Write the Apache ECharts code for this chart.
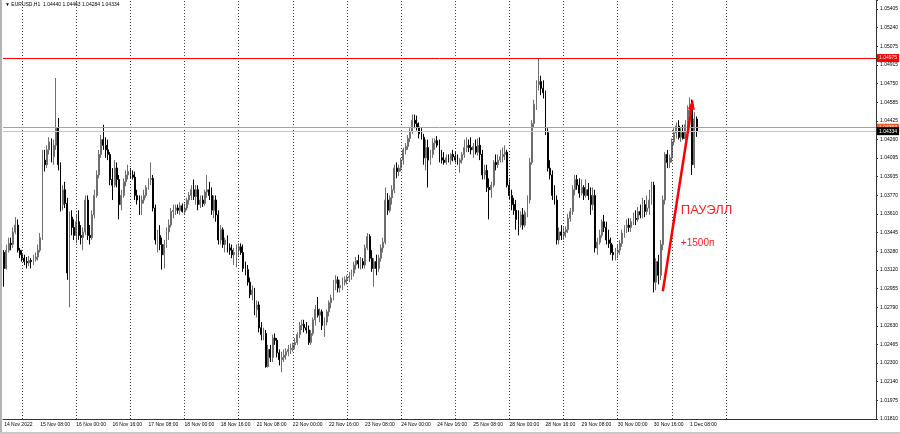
<!DOCTYPE html>
<html><head><meta charset="utf-8">
<script src="https://cdn.jsdelivr.net/npm/echarts@6/dist/echarts.min.js"></script>
<style>html,body{margin:0;padding:0;background:#fff}#chart{width:900px;height:434px}</style>
</head><body><div id="chart"></div>
<script>
const symbolTitle = 'EURUSD,H1';
const lastBarOHLC = ['1.04440', '1.04463', '1.04284', '1.04334'];
const tradingDays = ['14 Nov','15 Nov','16 Nov','17 Nov','18 Nov','21 Nov','22 Nov','23 Nov','24 Nov','25 Nov','28 Nov','29 Nov','30 Nov','1 Dec','2 Dec','5 Dec','6 Dec'];
const firstBarHour = 16;
const axisSlots = 387;
const yTickLabels = ['1.01810','1.01975','1.02140','1.02300','1.02465','1.02630','1.02790','1.02955','1.03120','1.03280','1.03445','1.03610','1.03770','1.03935','1.04095','1.04260','1.04425','1.04585','1.04750','1.04915','1.05075','1.05240','1.05405'];
const yViewMax = 1.05484;
const timeTickLabels = ['14 Nov 2022','15 Nov 08:00','16 Nov 00:00','16 Nov 16:00','17 Nov 08:00','18 Nov 00:00','18 Nov 16:00','21 Nov 08:00','22 Nov 00:00','22 Nov 16:00','23 Nov 08:00','24 Nov 00:00','24 Nov 16:00','25 Nov 08:00','28 Nov 00:00','28 Nov 16:00','29 Nov 08:00','30 Nov 00:00','30 Nov 16:00','1 Dec 08:00'];
const gridLineTimes = ['15 Nov 00:00','16 Nov 00:00','17 Nov 00:00','18 Nov 00:00','21 Nov 00:00','22 Nov 00:00','23 Nov 00:00','24 Nov 00:00','25 Nov 00:00','28 Nov 00:00','29 Nov 00:00','30 Nov 00:00','1 Dec 00:00','2 Dec 00:00'];
const levelRed = 1.04975;
const levelOrange = 1.04364;
const levelBid = 1.04334;
const arrowFrom = ['30 Nov 20:00', 1.0293];
const arrowTo = ['1 Dec 09:00', 1.0457];
const noteTitle = ['1 Dec 04:00', 1.0364, 'ПАУЭЛЛ'];
const notePips = ['1 Dec 04:00', 1.0335, '+1500п'];
// [open, high, low, close]
const candlesOHLC = [
[1.0327,1.0329,1.0297,1.0313],[1.0313,1.0334,1.0312,1.0329],[1.0329,1.0340,1.0327,1.0335],[1.0335,1.0340,1.0329,1.0334],[1.0334,1.0349,1.0331,1.0345],[1.0345,1.0358,1.0343,1.0351],
[1.0351,1.0356,1.0327,1.0329],[1.0329,1.0331,1.0322,1.0325],[1.0325,1.0329,1.0319,1.0322],[1.0322,1.0325,1.0316,1.0319],[1.0319,1.0323,1.0313,1.0318],[1.0318,1.0324,1.0315,1.0320],
[1.0320,1.0322,1.0313,1.0319],[1.0319,1.0325,1.0316,1.0321],[1.0321,1.0327,1.0319,1.0323],[1.0323,1.0334,1.0320,1.0329],[1.0329,1.0344,1.0327,1.0340],[1.0340,1.0417,1.0338,1.0408],
[1.0408,1.0417,1.0398,1.0404],[1.0404,1.0421,1.0401,1.0417],[1.0417,1.0428,1.0413,1.0424],[1.0424,1.0427,1.0406,1.0411],[1.0411,1.0426,1.0404,1.0421],[1.0421,1.0480,1.0417,1.0436],
[1.0436,1.0445,1.0399,1.0404],[1.0404,1.0406,1.0363,1.0369],[1.0369,1.0386,1.0364,1.0382],[1.0382,1.0389,1.0366,1.0370],[1.0370,1.0375,1.0303,1.0309],[1.0309,1.0363,1.0279,1.0358],
[1.0358,1.0364,1.0342,1.0349],[1.0349,1.0356,1.0338,1.0342],[1.0342,1.0360,1.0335,1.0354],[1.0354,1.0364,1.0338,1.0342],[1.0342,1.0351,1.0334,1.0340],[1.0340,1.0349,1.0329,1.0345],
[1.0345,1.0377,1.0342,1.0373],[1.0373,1.0377,1.0338,1.0342],[1.0342,1.0351,1.0334,1.0340],[1.0340,1.0364,1.0338,1.0360],[1.0360,1.0382,1.0357,1.0377],[1.0377,1.0399,1.0375,1.0395],
[1.0395,1.0417,1.0392,1.0413],[1.0413,1.0430,1.0410,1.0426],[1.0426,1.0439,1.0417,1.0421],[1.0421,1.0428,1.0410,1.0417],[1.0417,1.0426,1.0408,1.0413],[1.0413,1.0415,1.0386,1.0391],
[1.0391,1.0401,1.0373,1.0386],[1.0386,1.0408,1.0384,1.0401],[1.0401,1.0406,1.0384,1.0391],[1.0391,1.0395,1.0356,1.0369],[1.0369,1.0382,1.0364,1.0377],[1.0377,1.0392,1.0375,1.0389],
[1.0389,1.0399,1.0385,1.0395],[1.0395,1.0404,1.0391,1.0398],[1.0398,1.0401,1.0392,1.0395],[1.0395,1.0399,1.0391,1.0393],[1.0393,1.0398,1.0373,1.0377],[1.0377,1.0382,1.0369,1.0373],
[1.0373,1.0377,1.0360,1.0370],[1.0370,1.0377,1.0360,1.0373],[1.0373,1.0382,1.0370,1.0377],[1.0377,1.0386,1.0375,1.0384],[1.0384,1.0392,1.0382,1.0391],[1.0391,1.0406,1.0386,1.0392],
[1.0392,1.0395,1.0363,1.0366],[1.0366,1.0369,1.0334,1.0338],[1.0338,1.0347,1.0327,1.0342],[1.0342,1.0351,1.0329,1.0334],[1.0334,1.0340,1.0312,1.0325],[1.0325,1.0338,1.0313,1.0334],
[1.0334,1.0349,1.0331,1.0345],[1.0345,1.0356,1.0338,1.0351],[1.0351,1.0366,1.0349,1.0363],[1.0363,1.0369,1.0357,1.0364],[1.0364,1.0369,1.0360,1.0366],[1.0366,1.0369,1.0361,1.0364],
[1.0364,1.0371,1.0360,1.0368],[1.0368,1.0370,1.0362,1.0363],[1.0363,1.0370,1.0360,1.0366],[1.0366,1.0375,1.0364,1.0373],[1.0373,1.0380,1.0369,1.0377],[1.0377,1.0386,1.0373,1.0382],
[1.0382,1.0391,1.0373,1.0376],[1.0376,1.0386,1.0369,1.0382],[1.0382,1.0386,1.0364,1.0369],[1.0369,1.0377,1.0366,1.0373],[1.0373,1.0377,1.0367,1.0370],[1.0370,1.0382,1.0368,1.0380],
[1.0380,1.0395,1.0375,1.0382],[1.0382,1.0389,1.0373,1.0377],[1.0377,1.0384,1.0360,1.0364],[1.0364,1.0377,1.0357,1.0373],[1.0373,1.0377,1.0354,1.0360],[1.0360,1.0364,1.0334,1.0338],
[1.0338,1.0351,1.0334,1.0347],[1.0347,1.0349,1.0331,1.0334],[1.0334,1.0340,1.0327,1.0338],[1.0338,1.0342,1.0327,1.0331],[1.0331,1.0335,1.0325,1.0329],[1.0329,1.0334,1.0322,1.0325],
[1.0325,1.0331,1.0316,1.0327],[1.0327,1.0334,1.0314,1.0329],[1.0329,1.0335,1.0324,1.0332],[1.0332,1.0335,1.0325,1.0327],[1.0327,1.0334,1.0310,1.0313],[1.0313,1.0319,1.0307,1.0312],
[1.0312,1.0316,1.0298,1.0301],[1.0301,1.0305,1.0287,1.0290],[1.0290,1.0298,1.0285,1.0294],[1.0294,1.0296,1.0272,1.0277],[1.0277,1.0285,1.0270,1.0281],[1.0281,1.0284,1.0257,1.0261],
[1.0261,1.0266,1.0250,1.0255],[1.0255,1.0261,1.0250,1.0256],[1.0256,1.0259,1.0226,1.0227],[1.0227,1.0246,1.0226,1.0242],[1.0242,1.0246,1.0231,1.0235],[1.0235,1.0255,1.0231,1.0252],
[1.0252,1.0256,1.0246,1.0250],[1.0250,1.0252,1.0235,1.0239],[1.0239,1.0242,1.0228,1.0233],[1.0233,1.0240,1.0222,1.0235],[1.0235,1.0242,1.0231,1.0237],[1.0237,1.0243,1.0233,1.0240],
[1.0240,1.0246,1.0236,1.0242],[1.0242,1.0247,1.0238,1.0243],[1.0243,1.0248,1.0240,1.0246],[1.0246,1.0252,1.0242,1.0248],[1.0248,1.0257,1.0246,1.0255],[1.0255,1.0266,1.0252,1.0263],
[1.0263,1.0268,1.0259,1.0264],[1.0264,1.0268,1.0257,1.0261],[1.0261,1.0266,1.0256,1.0259],[1.0259,1.0263,1.0246,1.0248],[1.0248,1.0259,1.0246,1.0256],[1.0256,1.0270,1.0254,1.0268],
[1.0268,1.0281,1.0263,1.0277],[1.0277,1.0288,1.0270,1.0272],[1.0272,1.0278,1.0266,1.0275],[1.0275,1.0277,1.0259,1.0263],[1.0263,1.0270,1.0253,1.0266],[1.0266,1.0277,1.0263,1.0275],
[1.0275,1.0285,1.0271,1.0283],[1.0283,1.0290,1.0278,1.0287],[1.0287,1.0303,1.0285,1.0300],[1.0300,1.0307,1.0294,1.0303],[1.0303,1.0306,1.0292,1.0296],[1.0296,1.0303,1.0292,1.0298],
[1.0298,1.0305,1.0294,1.0301],[1.0301,1.0306,1.0298,1.0303],[1.0303,1.0307,1.0299,1.0305],[1.0305,1.0310,1.0301,1.0306],[1.0306,1.0312,1.0303,1.0309],[1.0309,1.0319,1.0306,1.0316],
[1.0316,1.0323,1.0312,1.0320],[1.0320,1.0325,1.0313,1.0317],[1.0317,1.0323,1.0312,1.0319],[1.0319,1.0322,1.0313,1.0316],[1.0316,1.0334,1.0313,1.0331],[1.0331,1.0344,1.0329,1.0341],
[1.0341,1.0343,1.0319,1.0322],[1.0322,1.0329,1.0310,1.0313],[1.0313,1.0322,1.0297,1.0319],[1.0319,1.0325,1.0307,1.0313],[1.0313,1.0325,1.0310,1.0322],[1.0322,1.0334,1.0319,1.0331],
[1.0331,1.0340,1.0327,1.0336],[1.0336,1.0384,1.0334,1.0373],[1.0373,1.0379,1.0360,1.0364],[1.0364,1.0377,1.0362,1.0375],[1.0375,1.0386,1.0369,1.0382],[1.0382,1.0404,1.0379,1.0401],
[1.0401,1.0406,1.0392,1.0398],[1.0398,1.0404,1.0394,1.0401],[1.0401,1.0410,1.0398,1.0408],[1.0408,1.0419,1.0404,1.0417],[1.0417,1.0423,1.0413,1.0420],[1.0420,1.0430,1.0417,1.0427],
[1.0427,1.0436,1.0424,1.0433],[1.0433,1.0448,1.0431,1.0443],[1.0443,1.0448,1.0436,1.0440],[1.0440,1.0447,1.0434,1.0437],[1.0437,1.0441,1.0427,1.0431],[1.0431,1.0436,1.0426,1.0428],
[1.0428,1.0431,1.0404,1.0410],[1.0410,1.0426,1.0399,1.0419],[1.0419,1.0426,1.0384,1.0408],[1.0408,1.0417,1.0404,1.0413],[1.0413,1.0427,1.0410,1.0423],[1.0423,1.0427,1.0417,1.0425],
[1.0425,1.0429,1.0419,1.0421],[1.0421,1.0426,1.0406,1.0410],[1.0410,1.0417,1.0405,1.0408],[1.0408,1.0415,1.0404,1.0406],[1.0406,1.0413,1.0404,1.0410],[1.0410,1.0413,1.0406,1.0408],
[1.0408,1.0414,1.0404,1.0413],[1.0413,1.0417,1.0407,1.0411],[1.0411,1.0415,1.0406,1.0408],[1.0408,1.0413,1.0404,1.0406],[1.0406,1.0410,1.0397,1.0408],[1.0408,1.0415,1.0405,1.0413],
[1.0413,1.0426,1.0410,1.0419],[1.0419,1.0428,1.0415,1.0421],[1.0421,1.0426,1.0415,1.0419],[1.0419,1.0428,1.0413,1.0417],[1.0417,1.0423,1.0410,1.0420],[1.0420,1.0426,1.0413,1.0415],
[1.0415,1.0427,1.0412,1.0421],[1.0421,1.0428,1.0408,1.0413],[1.0413,1.0417,1.0391,1.0395],[1.0395,1.0404,1.0391,1.0399],[1.0399,1.0404,1.0380,1.0384],[1.0384,1.0392,1.0356,1.0382],
[1.0382,1.0389,1.0375,1.0386],[1.0386,1.0408,1.0384,1.0406],[1.0406,1.0413,1.0399,1.0404],[1.0404,1.0413,1.0401,1.0408],[1.0408,1.0417,1.0406,1.0411],[1.0411,1.0419,1.0406,1.0413],
[1.0413,1.0421,1.0408,1.0415],[1.0415,1.0417,1.0384,1.0386],[1.0386,1.0391,1.0373,1.0377],[1.0377,1.0382,1.0364,1.0369],[1.0369,1.0375,1.0360,1.0364],[1.0364,1.0373,1.0347,1.0356],
[1.0356,1.0364,1.0342,1.0351],[1.0351,1.0363,1.0349,1.0360],[1.0360,1.0366,1.0347,1.0351],[1.0351,1.0364,1.0349,1.0362],[1.0362,1.0377,1.0358,1.0373],[1.0373,1.0410,1.0370,1.0406],
[1.0406,1.0443,1.0404,1.0440],[1.0440,1.0461,1.0437,1.0457],[1.0457,1.0478,1.0452,1.0474],[1.0474,1.0497,1.0469,1.0477],[1.0477,1.0482,1.0465,1.0471],[1.0471,1.0478,1.0462,1.0467],
[1.0467,1.0469,1.0430,1.0432],[1.0432,1.0436,1.0398,1.0401],[1.0401,1.0408,1.0391,1.0395],[1.0395,1.0399,1.0373,1.0377],[1.0377,1.0386,1.0369,1.0373],[1.0373,1.0377,1.0334,1.0338],
[1.0338,1.0349,1.0334,1.0345],[1.0345,1.0351,1.0338,1.0342],[1.0342,1.0349,1.0338,1.0345],[1.0345,1.0350,1.0340,1.0347],[1.0347,1.0361,1.0344,1.0357],[1.0357,1.0366,1.0354,1.0363],
[1.0363,1.0386,1.0360,1.0382],[1.0382,1.0395,1.0377,1.0391],[1.0391,1.0395,1.0382,1.0386],[1.0386,1.0392,1.0375,1.0379],[1.0379,1.0391,1.0377,1.0384],[1.0384,1.0386,1.0373,1.0377],
[1.0377,1.0391,1.0375,1.0382],[1.0382,1.0388,1.0373,1.0377],[1.0377,1.0384,1.0360,1.0369],[1.0369,1.0384,1.0364,1.0377],[1.0377,1.0382,1.0327,1.0331],[1.0331,1.0340,1.0325,1.0336],
[1.0336,1.0347,1.0334,1.0342],[1.0342,1.0356,1.0340,1.0354],[1.0354,1.0360,1.0345,1.0349],[1.0349,1.0354,1.0334,1.0338],[1.0338,1.0347,1.0331,1.0335],[1.0335,1.0340,1.0325,1.0327],
[1.0327,1.0334,1.0320,1.0325],[1.0325,1.0331,1.0320,1.0327],[1.0327,1.0334,1.0322,1.0329],[1.0329,1.0338,1.0325,1.0335],[1.0335,1.0347,1.0332,1.0344],[1.0344,1.0351,1.0340,1.0349],
[1.0349,1.0356,1.0344,1.0351],[1.0351,1.0357,1.0345,1.0349],[1.0349,1.0357,1.0345,1.0354],[1.0354,1.0362,1.0351,1.0357],[1.0357,1.0364,1.0351,1.0356],[1.0356,1.0367,1.0354,1.0363],
[1.0363,1.0369,1.0357,1.0360],[1.0360,1.0375,1.0357,1.0369],[1.0369,1.0373,1.0358,1.0363],[1.0363,1.0377,1.0360,1.0366],[1.0366,1.0382,1.0360,1.0373],[1.0373,1.0389,1.0369,1.0386],
[1.0386,1.0389,1.0292,1.0301],[1.0301,1.0322,1.0294,1.0319],[1.0319,1.0325,1.0299,1.0307],[1.0307,1.0338,1.0303,1.0334],[1.0334,1.0377,1.0329,1.0373],[1.0373,1.0415,1.0369,1.0413],
[1.0413,1.0417,1.0401,1.0406],[1.0406,1.0413,1.0401,1.0410],[1.0410,1.0427,1.0406,1.0424],[1.0424,1.0436,1.0421,1.0432],[1.0432,1.0441,1.0427,1.0438],[1.0438,1.0443,1.0426,1.0428],
[1.0428,1.0436,1.0424,1.0432],[1.0432,1.0439,1.0426,1.0427],[1.0427,1.0443,1.0426,1.0439],[1.0439,1.0456,1.0436,1.0452],[1.0452,1.0463,1.0448,1.0456],[1.0456,1.0461,1.0395,1.0404],
[1.0404,1.0450,1.0401,1.0444],[1.04440,1.04463,1.04284,1.04334]
];

const FONT = 'Liberation Sans';
const categories = [];
tradingDays.forEach((d, k) => {
  for (let h = (k === 0 ? firstBarHour : 0); h < 24; h++) categories.push(d + ' ' + String(h).padStart(2, '0') + ':00');
});
categories.length = axisSlots;
const tickCats = timeTickLabels.map((l, k) => k === 0 ? categories[0] : l);
const yMin = parseFloat(yTickLabels[0]);
const yStep = (parseFloat(yTickLabels[yTickLabels.length - 1]) - yMin) / (yTickLabels.length - 1);

function priceTag(value, bg, fg, lineColor) {
  return {
    yAxis: value,
    lineStyle: { color: lineColor, width: 1, type: 'solid' },
    label: { show: true, position: 'end', distance: 1, formatter: value.toFixed(5),
      backgroundColor: bg, color: fg, fontSize: 5, fontFamily: FONT, padding: [1, 2, 1, 2], lineHeight: 6 }
  };
}

const chart = echarts.init(document.getElementById('chart'), null, { renderer: 'canvas' });
chart.setOption({
  animation: false,
  backgroundColor: '#ffffff',
  title: {
    text: '▼ ' + symbolTitle + '  ' + lastBarOHLC.join(' '),
    left: 5, top: 2, padding: 0,
    textStyle: { fontSize: 5, fontWeight: 'normal', color: '#000', fontFamily: FONT }
  },
  grid: { left: 3, right: 24, top: 0, bottom: 15, containLabel: false, outerBoundsMode: 'none' },
  xAxis: {
    type: 'category', data: categories, boundaryGap: true,
    axisLine: { show: true, lineStyle: { color: '#333', width: 1 } },
    axisTick: { show: false },
    splitLine: { show: false },
    axisLabel: {
      interval: (i, v) => tickCats.indexOf(v) >= 0,
      formatter: (v) => timeTickLabels[tickCats.indexOf(v)],
      align: 'left', fontSize: 5, color: '#000', margin: 3, fontFamily: FONT
    }
  },
  yAxis: {
    type: 'value', position: 'right', min: yMin, max: yViewMax, interval: yStep,
    splitLine: { show: false },
    axisLine: { show: true, lineStyle: { color: '#333', width: 1 } },
    axisTick: { show: true, length: 2, lineStyle: { color: '#333' } },
    axisLabel: {
      fontSize: 5, color: '#000', margin: 4, fontFamily: FONT,
      formatter: (v) => {
        const k = Math.round((v - yMin) / yStep);
        if (k < 0 || k >= yTickLabels.length || Math.abs(v - (yMin + k * yStep)) > yStep * 0.05) return '';
        return yTickLabels[k];
      }
    }
  },
  series: [
    {
      type: 'line', data: [], z: 1, silent: true,
      markLine: {
        silent: true, animation: false, symbol: ['none', 'none'], label: { show: false },
        lineStyle: { type: [1, 2], color: '#3a3a3a', width: 1 },
        data: gridLineTimes.map(t => ({ xAxis: t }))
      }
    },
    {
      type: 'candlestick', z: 2, barWidth: 1.4,
      data: candlesOHLC.map(r => [r[0], r[3], r[2], r[1]]),
      itemStyle: { color: '#6e6e6e', color0: '#000000', borderColor: '#6e6e6e', borderColor0: '#000000', borderWidth: 1 }
    },
    {
      type: 'line', data: [], z: 3, silent: true,
      markLine: {
        silent: true, animation: false, symbol: ['none', 'none'], precision: 5,
        data: [
          priceTag(levelRed, '#ff0000', '#ffffff', '#ff0000'),
          priceTag(levelOrange, '#f05a28', '#ffffff', '#f08860'),
          priceTag(levelBid, '#000000', '#ffffff', '#c4c4c4'),
          [
            { coord: arrowFrom, symbol: 'none', lineStyle: { color: '#ff0000', width: 2.5, type: 'solid' }, label: { show: false } },
            { coord: arrowTo, symbol: 'triangle', symbolSize: [7, 10] }
          ]
        ]
      },
      markPoint: {
        silent: true, animation: false, symbol: 'circle', symbolSize: 0,
        data: [
          { coord: [noteTitle[0], noteTitle[1]], label: { show: true, position: 'right', distance: 0, formatter: noteTitle[2], color: '#ff2020', fontSize: 13, fontFamily: FONT } },
          { coord: [notePips[0], notePips[1]], label: { show: true, position: 'right', distance: 0, formatter: notePips[2], color: '#ff2020', fontSize: 10, fontFamily: FONT } }
        ]
      }
    }
  ],
  graphic: [
    { type: 'rect', shape: { x: 0, y: 0, width: 2, height: 434 }, style: { fill: '#b4b4b4' }, silent: true },
    { type: 'rect', shape: { x: 0, y: 432, width: 900, height: 2 }, style: { fill: '#c8c8c8' }, silent: true }
  ]
});
</script>
</body></html>
